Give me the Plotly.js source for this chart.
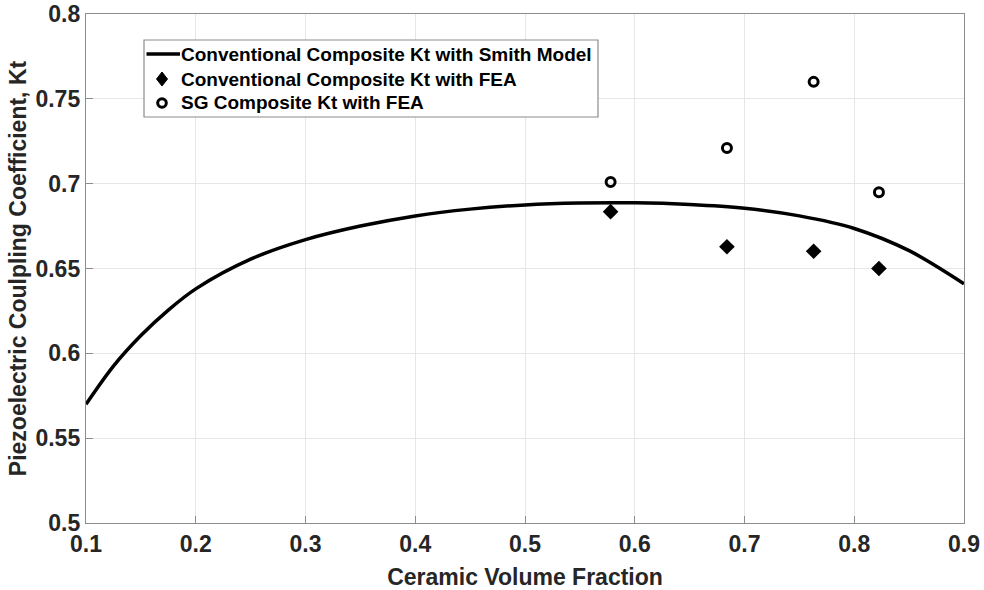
<!DOCTYPE html>
<html>
<head>
<meta charset="utf-8">
<script src="https://cdn.plot.ly/plotly-3.0.1.min.js"></script>
<style>
  html, body { margin: 0; padding: 0; background: #fff; }
  #chart { width: 984px; height: 590px; }
</style>
</head>
<body>
<div id="chart"></div>
<script>
// Smith model curve: coupling coefficient vs ceramic volume fraction
const smithX = [0.10, 0.125, 0.15, 0.175, 0.20, 0.25, 0.30, 0.35, 0.40, 0.45, 0.50, 0.55, 0.60, 0.65, 0.70, 0.75, 0.80, 0.85, 0.90];
const smithKt = [0.570, 0.5925, 0.6105, 0.6255, 0.638, 0.6555, 0.667, 0.675, 0.681, 0.685, 0.6875, 0.6886, 0.6887, 0.6877, 0.6855, 0.681, 0.6736, 0.6605, 0.641];

// FEA results at the simulated volume fractions
const feaX = [0.578, 0.684, 0.763, 0.8225];
const convKt = [0.6835, 0.6628, 0.6602, 0.650];
const sgKt = [0.701, 0.721, 0.760, 0.695];

const seriesNames = [
  'Conventional Composite Kt with Smith Model',
  'Conventional Composite Kt with FEA',
  'SG Composite Kt with FEA'
];

const xTicks = [0.1, 0.2, 0.3, 0.4, 0.5, 0.6, 0.7, 0.8, 0.9];
const yTicks = [0.5, 0.55, 0.6, 0.65, 0.7, 0.75, 0.8];

const FONT = 'Liberation Sans, Arial, sans-serif';
const INK = '#262626';

const traces = [
  {
    x: smithX, y: smithKt, name: seriesNames[0],
    type: 'scatter', mode: 'lines',
    line: { color: '#000', width: 3.5, shape: 'spline', smoothing: 0.9 }
  },
  {
    x: feaX, y: convKt, name: seriesNames[1],
    type: 'scatter', mode: 'markers',
    marker: { symbol: 'diamond', size: 12, color: '#000' }
  },
  {
    x: feaX, y: sgKt, name: seriesNames[2],
    type: 'scatter', mode: 'markers',
    marker: { symbol: 'circle-open', size: 9, color: '#000', line: { width: 3, color: '#000' } }
  }
];

// Compact legend box (drawn in paper coordinates so rows sit tightly together)
const plotW = 878, plotH = 509;           // plot area size in px
const px = v => v / plotW;                // px -> paper x span
const py = v => v / plotH;                // px -> paper y span
const legLeft = px(58), legRight = px(512), legTop = 1 - py(26), legBottom = 1 - py(103);
const rowY = [1 - py(40), 1 - py(65), 1 - py(89)];
const symX = px(76), textX = px(92.5);

const legendShapes = [
  { type: 'rect', xref: 'paper', yref: 'paper', x0: legLeft, x1: legRight, y0: legBottom, y1: legTop,
    line: { color: '#8c8c8c', width: 1.2 }, fillcolor: '#fff', layer: 'above' },
  { type: 'line', xref: 'paper', yref: 'paper', x0: px(60.5), x1: px(94), y0: rowY[0], y1: rowY[0],
    line: { color: '#000', width: 3.5 }, layer: 'above' },
  { type: 'path', xref: 'paper', yref: 'paper', layer: 'above',
    path: `M ${symX - px(5.5)} ${rowY[1]} L ${symX} ${rowY[1] + py(7)} L ${symX + px(5.5)} ${rowY[1]} L ${symX} ${rowY[1] - py(7)} Z`,
    fillcolor: '#000', line: { color: '#000', width: 1 } },
  { type: 'circle', xref: 'paper', yref: 'paper', layer: 'above',
    x0: symX - px(4.3), x1: symX + px(4.3), y0: rowY[2] - py(4.3), y1: rowY[2] + py(4.3),
    fillcolor: '#fff', line: { color: '#000', width: 3 } }
];

const legendLabels = seriesNames.map((name, i) => ({
  xref: 'paper', yref: 'paper', x: textX, y: rowY[i], xanchor: 'left', yanchor: 'middle',
  text: name, showarrow: false,
  font: { family: FONT, size: 19, color: '#000', weight: 'bold' }
}));

const axisCommon = {
  showline: true, mirror: true, linecolor: '#8c8c8c', linewidth: 1.2,
  showgrid: true, gridcolor: '#e6e6e6', gridwidth: 1,
  zeroline: false,
  ticks: 'inside', ticklen: 7, tickcolor: '#8c8c8c', tickwidth: 1,
  tickfont: { family: FONT, size: 23, color: INK, weight: 'bold' }
};

const layout = {
  width: 984, height: 590,
  margin: { l: 86, r: 20, t: 14, b: 67 },
  paper_bgcolor: '#fff', plot_bgcolor: '#fff',
  showlegend: false,
  shapes: legendShapes,
  annotations: legendLabels,
  xaxis: Object.assign({}, axisCommon, {
    range: [0.1, 0.9], tickvals: xTicks, ticktext: xTicks.map(String),
    title: { text: 'Ceramic Volume Fraction', standoff: 13,
      font: { family: FONT, size: 23, color: INK, weight: 'bold' } }
  }),
  yaxis: Object.assign({}, axisCommon, {
    range: [0.5, 0.8], tickvals: yTicks, ticktext: yTicks.map(String),
    title: { text: 'Piezoelectric Coulpling Coefficient, Kt', standoff: 2,
      font: { family: FONT, size: 23, color: INK, weight: 'bold' } }
  })
};

Plotly.newPlot('chart', traces, layout, { displayModeBar: false, staticPlot: true });
</script>
</body>
</html>
